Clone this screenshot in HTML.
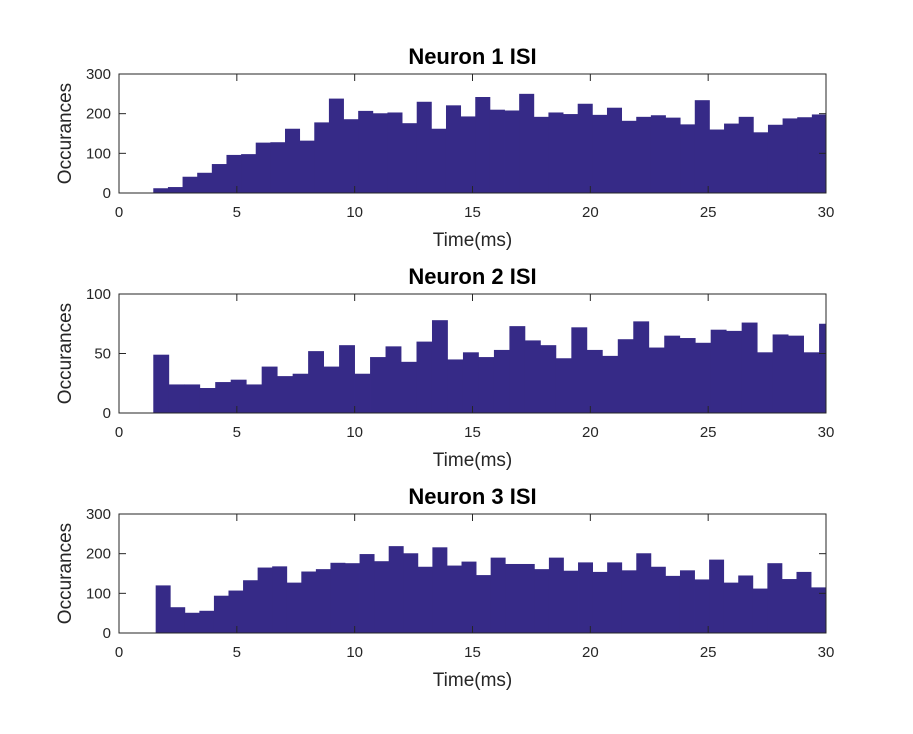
<!DOCTYPE html>
<html><head><meta charset="utf-8"><style>body{margin:0;background:#fff}svg{display:block}</style></head>
<body>
<svg id="chart" width="913" height="734" xmlns="http://www.w3.org/2000/svg" font-family="Liberation Sans, sans-serif"></svg>
<script>
const n1Counts=[12,15,41,51,73,96,98,127,128,162,132,178,238,186,207,201,203,176,230,162,221,193,242,210,208,250,192,203,199,225,197,215,182,192,196,190,173,234,160,175,192,153,172,188,191,198];
const n2Counts=[49,24,24,21,26,28,24,39,31,33,52,39,57,33,47,56,43,60,78,45,51,47,53,73,61,57,46,72,53,48,62,77,55,65,63,59,70,69,76,51,66,65,51,75];
const n3Counts=[120,65,51,56,94,107,133,165,168,127,155,161,177,176,199,181,219,201,167,216,170,180,146,190,174,174,161,190,157,178,154,178,158,201,167,144,158,135,185,127,145,112,176,136,154,115,150];
const binStarts=[1.455,1.455,1.556];
const binWidths=[0.621,0.657,0.618];
const yMaxes=[300,100,300];
const yTickSets=[[0,100,200,300],[0,50,100],[0,100,200,300]];
const xTicks=[0,5,10,15,20,25,30];
const titles=["Neuron 1 ISI","Neuron 2 ISI","Neuron 3 ISI"];
const allCounts=[n1Counts,n2Counts,n3Counts];
const tops=[74,294,514];
const L=119,R=826,H=119,XMAX=30;
const NS="http://www.w3.org/2000/svg";
const svg=document.getElementById('chart');
function mk(t,a,p){const e=document.createElementNS(NS,t);for(const k in a)e.setAttribute(k,a[k]);(p||svg).appendChild(e);return e;}
const xs=v=>L+(v/XMAX)*(R-L);
for(let p=0;p<3;p++){
  const T=tops[p],B=T+H,ym=yMaxes[p];
  const ys=v=>B-(v/ym)*H;
  const g=mk('g',{});
  
  
  const cid='clip'+p;
  const cp=mk('clipPath',{id:cid},g);mk('rect',{x:L,y:T,width:R-L,height:H},cp);
  const bars=mk('g',{'clip-path':'url(#'+cid+')'},g);
  allCounts[p].forEach((c,i)=>{
    const x0=xs(binStarts[p]+i*binWidths[p]),x1=xs(binStarts[p]+(i+1)*binWidths[p]);
    const r=mk('rect',{x:x0,y:ys(c),width:x1-x0+0.4,height:B-ys(c),fill:'#362a87'},bars);
    
    
  });
  const box=mk('rect',{x:L,y:T,width:R-L,height:H,fill:'none',stroke:'#262626','stroke-width':1},g);
  
  
  xTicks.forEach(v=>{
    const x=xs(v);
    mk('line',{x1:x,x2:x,y1:B,y2:B-7,stroke:'#262626'},g);
    mk('line',{x1:x,x2:x,y1:T,y2:T+7,stroke:'#262626'},g);
    const t=mk('text',{x:x,y:B+24,'text-anchor':'middle','font-size':15,fill:'#262626'},g);t.textContent=v;
    
    
  });
  yTickSets[p].forEach(v=>{
    const y=ys(v);
    mk('line',{x1:L,x2:L+7,y1:y,y2:y,stroke:'#262626'},g);
    mk('line',{x1:R,x2:R-7,y1:y,y2:y,stroke:'#262626'},g);
    const t=mk('text',{x:L-8,y:y+5,'text-anchor':'end','font-size':15,fill:'#262626'},g);t.textContent=v;
    
    
  });
  const ti=mk('text',{x:(L+R)/2,y:T-10,'text-anchor':'middle','font-size':22,'font-weight':'bold',fill:'#000'},g);ti.textContent=titles[p];
  
  
  const xl=mk('text',{x:(L+R)/2,y:B+53,'text-anchor':'middle','font-size':19,fill:'#262626'},g);xl.textContent='Time(ms)';
  
  
  const yl=mk('text',{x:0,y:0,'text-anchor':'middle','font-size':19,fill:'#262626',transform:'translate(71,'+(T+H/2)+') rotate(-90)'},g);yl.textContent='Occurances';
  
  
}
</script>
</body></html>
